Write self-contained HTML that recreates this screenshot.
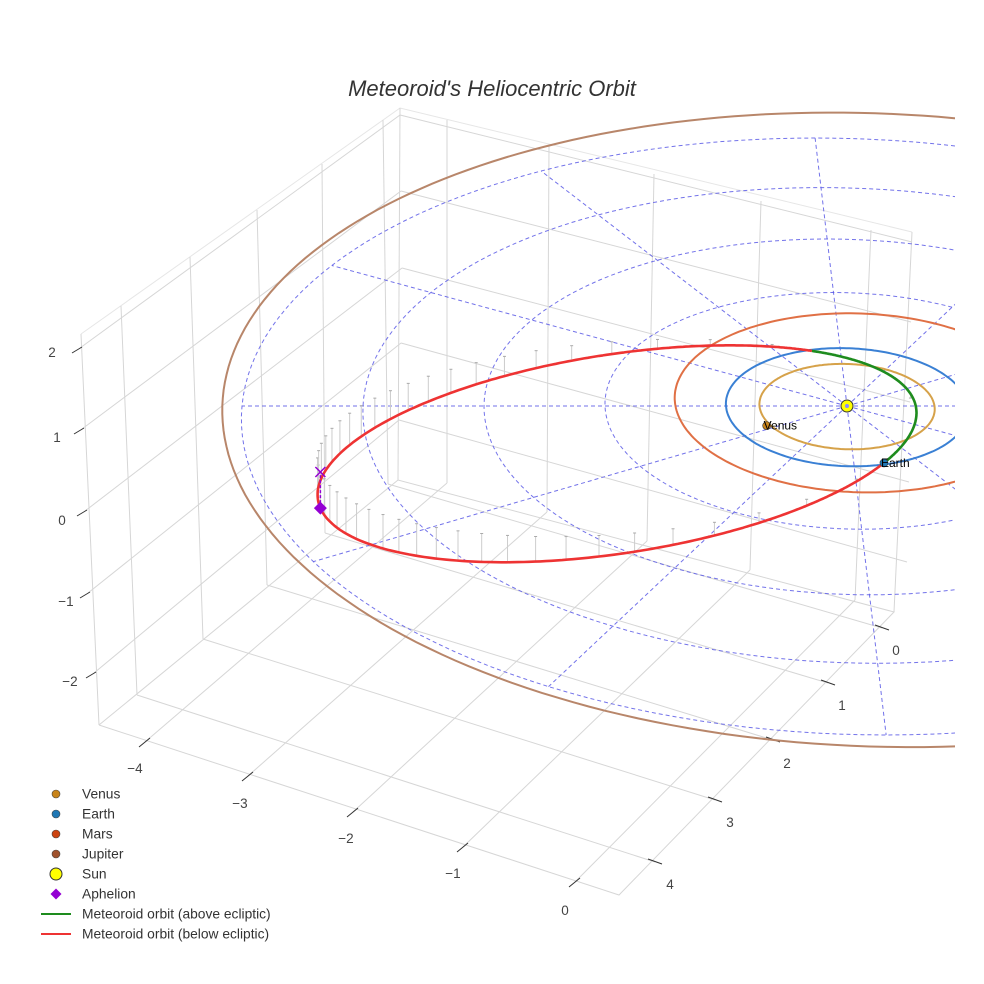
<!DOCTYPE html>
<html><head><meta charset="utf-8"><style>
html,body{margin:0;padding:0;background:#fff;}
svg{display:block;font-family:"Liberation Sans",sans-serif;}
</style></head><body>
<svg id="chart" width="984" height="984" viewBox="0 0 984 984" xmlns="http://www.w3.org/2000/svg">
<defs><clipPath id="sceneClip"><rect x="0" y="0" width="955" height="984"/></clipPath></defs>
<rect width="984" height="984" fill="#fff"/>
<text x="492" y="96" text-anchor="middle" font-size="22" font-style="italic" fill="#333">Meteoroid's Heliocentric Orbit</text>
<g id="box" stroke="#d6d6d6" stroke-width="1" fill="none">
  <polyline points="81,334 400,108 912,232" stroke="#e6e6e6"/>
  <line x1="80" y1="348" x2="400" y2="115"/><line x1="82" y1="429" x2="401" y2="191"/>
  <line x1="85" y1="511" x2="402" y2="268"/><line x1="88" y1="593" x2="401" y2="343"/>
  <line x1="94" y1="673" x2="399" y2="420"/>
  <line x1="81" y1="334" x2="99" y2="725"/><line x1="121" y1="306" x2="137" y2="695"/>
  <line x1="190" y1="257" x2="203" y2="639"/><line x1="257" y1="210" x2="267" y2="585"/>
  <line x1="322" y1="164" x2="325" y2="533"/><line x1="383" y1="120" x2="388" y2="484"/>
  <line x1="400" y1="108" x2="398" y2="480"/>
  <line x1="400" y1="115" x2="912" y2="242"/><line x1="401" y1="191" x2="911" y2="322"/>
  <line x1="402" y1="268" x2="910" y2="402"/><line x1="401" y1="343" x2="909" y2="482"/>
  <line x1="399" y1="420" x2="907" y2="562"/>
  <line x1="447" y1="120" x2="447" y2="483"/><line x1="549" y1="146" x2="547" y2="512"/>
  <line x1="654" y1="174" x2="647" y2="541"/><line x1="761" y1="201" x2="750" y2="570"/>
  <line x1="871" y1="230" x2="855" y2="600"/><line x1="912" y1="232" x2="894" y2="612"/>
  <polyline points="99,725 398,480 894,612 619,895 99,725"/>
  <line x1="145" y1="742" x2="447" y2="483"/><line x1="248" y1="776" x2="547" y2="512"/>
  <line x1="353" y1="812" x2="647" y2="541"/><line x1="463" y1="847" x2="750" y2="570"/>
  <line x1="575" y1="882" x2="855" y2="600"/>
  <line x1="137" y1="695" x2="655" y2="862"/><line x1="203" y1="639" x2="715" y2="800"/>
  <line x1="267" y1="585" x2="773" y2="740"/><line x1="325" y1="533" x2="828" y2="683"/>
  <line x1="388" y1="484" x2="882" y2="628"/>
</g>
<g id="ticks" stroke="#333" stroke-width="1">
  <line x1="72" y1="353" x2="82" y2="347"/><line x1="74" y1="434" x2="84" y2="428"/>
  <line x1="77" y1="516" x2="87" y2="510"/><line x1="80" y1="598" x2="90" y2="592"/>
  <line x1="86" y1="678" x2="96" y2="672"/>
  <line x1="139" y1="747" x2="150" y2="738"/><line x1="242" y1="781" x2="253" y2="772"/>
  <line x1="347" y1="817" x2="358" y2="808"/><line x1="457" y1="852" x2="468" y2="843"/>
  <line x1="569" y1="887" x2="580" y2="878"/>
  <line x1="648" y1="859" x2="662" y2="864"/><line x1="708" y1="797" x2="722" y2="802"/>
  <line x1="766" y1="737" x2="780" y2="742"/><line x1="821" y1="680" x2="835" y2="685"/>
  <line x1="875" y1="625" x2="889" y2="630"/>
</g>
<g id="tickLabels" font-size="13.5" fill="#444" text-anchor="middle">
  <text x="52" y="357">2</text>
  <text x="57" y="442">1</text>
  <text x="62" y="525">0</text>
  <text x="66" y="606">−1</text>
  <text x="70" y="686">−2</text>
  <text x="135" y="773">−4</text>
  <text x="240" y="808">−3</text>
  <text x="346" y="843">−2</text>
  <text x="453" y="878">−1</text>
  <text x="565" y="915">0</text>
  <text x="896" y="655">0</text>
  <text x="842" y="710">1</text>
  <text x="787" y="768">2</text>
  <text x="730" y="827">3</text>
  <text x="670" y="889">4</text>
</g>
<g id="scene" clip-path="url(#sceneClip)"></g>
<g id="legend" font-size="13.8" fill="#333"></g>
</svg>
<script>
// ---- data ----
const planetNames = ["Venus", "Earth", "Mars", "Jupiter"];
const planetA = [0.723, 1.0, 1.524, 5.35];
const planetE = [0.0, 0.0, 0.093, 0.048];
const planetPeriDeg = [0, 0, 135, 135];
const planetColors = ["#d6a24a", "#3a80d4", "#e07045", "#b8866a"];
const legendColors = ["#c8841a", "#1f77b4", "#cc4411", "#a0522d"];
const markerNames = ["Venus", "Earth"];
const markerAngleDeg = [154, 75.5];
const markerRadius = [0.755, 0.977];
const gridRadii = [1, 2, 3, 4, 5];
const gridAnglesDeg = [0, 30, 60, 90, 120, 150, 180, 210, 240, 270, 300, 330];
const meteorP = [0.98];
const meteorE = [0.78];
const meteorPeriDeg = [-14.2];
const meteorNodeDeg = [255.5];
const meteorInclDeg = [6.5];

// ---- projection (screen calibration) ----
const C = 0.02044, KY = 59.07, KX = 121, M = 7.03, KZ = 70, SX = 847, SY = 406;
function proj(X, Y, Z) { const w = 1 - C * Y; return [SX + (KX * X + M * Y) / w, SY + (KY * Y - KZ * Z) / w]; }
const NS = "http://www.w3.org/2000/svg";
const scene = document.getElementById("scene");
function mk(tag, attrs, parent) { const e = document.createElementNS(NS, tag); for (const k in attrs) e.setAttribute(k, attrs[k]); (parent || scene).appendChild(e); return e; }
const rad = d => d * Math.PI / 180;
function pts(arr) { return arr.map(p => p[0].toFixed(1) + "," + p[1].toFixed(1)).join(" "); }

gridRadii.forEach(r => {
  const a = []; for (let t = 0; t <= 360; t += 2) a.push(proj(r * Math.cos(rad(t)), r * Math.sin(rad(t)), 0));
  const el = mk("polyline", { points: pts(a), fill: "none", stroke: "#5a5ae6", "stroke-width": 1, "stroke-dasharray": "4,3", opacity: 0.85 });
  
  
});
gridAnglesDeg.forEach(t => {
  const p1 = proj(0, 0, 0), p2 = proj(5 * Math.cos(rad(t)), 5 * Math.sin(rad(t)), 0);
  const el = mk("line", { x1: p1[0], y1: p1[1], x2: p2[0], y2: p2[1], stroke: "#5a5ae6", "stroke-width": 1, "stroke-dasharray": "4,3", opacity: 0.85 });
  
  
});

planetNames.forEach((n, i) => {
  const a = planetA[i], e = planetE[i], tp = planetPeriDeg[i], arr = [];
  for (let t = 0; t <= 360; t += 1.5) {
    const r = a * (1 - e * e) / (1 + e * Math.cos(rad(t - tp)));
    arr.push(proj(r * Math.cos(rad(t)), r * Math.sin(rad(t)), 0));
  }
  const el = mk("polyline", { points: pts(arr), fill: "none", stroke: planetColors[i], "stroke-width": 2 });
  
  
});

const mp = meteorP[0], me = meteorE[0], mper = meteorPeriDeg[0], mnode = meteorNodeDeg[0], minc = rad(meteorInclDeg[0]);
function meteorPoint(nu) {
  const th = nu + mper, r = mp / (1 + me * Math.cos(rad(nu)));
  return [r * Math.cos(rad(th)), r * Math.sin(rad(th)), r * Math.sin(minc) * Math.sin(rad(th - mnode))];
}
let seg = [], segAbove = null;
function flush() {
  if (seg.length > 1) {
    const el = mk("polyline", { points: pts(seg.map(q => proj(q[0], q[1], q[2]))), fill: "none", stroke: segAbove ? "#1e8c1e" : "#ee3333", "stroke-width": 2.6, "stroke-linejoin": "round" });
    
    
  }
}
const stemG = mk("g", {});


for (let k = 0; k < 48; k++) {
  const Mn = rad(k * 7.5);
  let E = Mn; for (let j = 0; j < 30; j++) E = E - (E - me * Math.sin(E) - Mn) / (1 - me * Math.cos(E));
  const nu = 2 * Math.atan2(Math.sqrt(1 + me) * Math.sin(E / 2), Math.sqrt(1 - me) * Math.cos(E / 2)) * 180 / Math.PI;
  const q = meteorPoint(nu);
  if (Math.abs(q[2]) < 0.03) continue;
  const a1 = proj(q[0], q[1], q[2]), a2 = proj(q[0], q[1], 0);
  mk("line", { x1: a1[0], y1: a1[1], x2: a2[0], y2: a2[1], stroke: "#cccccc", "stroke-width": 1 }, stemG);
  mk("line", { x1: a2[0] - 1.5, y1: a2[1], x2: a2[0] + 1.5, y2: a2[1], stroke: "#aaa", "stroke-width": 1 }, stemG);
}
for (let nu = -180; nu <= 180; nu += 0.5) {
  const q = meteorPoint(nu), above = q[2] >= 0;
  if (segAbove === null) segAbove = above;
  if (above !== segAbove) { seg.push(q); flush(); seg = [q]; segAbove = above; } else seg.push(q);
}
flush();

const aph = meteorPoint(180), pa = proj(aph[0], aph[1], aph[2]), pe = proj(aph[0], aph[1], 0);
let el = mk("line", { x1: pa[0], y1: pa[1], x2: pe[0], y2: pe[1], stroke: "#9400d3", "stroke-width": 1.5, "stroke-dasharray": "3,2" });


el = mk("path", { d: `M${pe[0] - 5},${pe[1] - 5}L${pe[0] + 5},${pe[1] + 5}M${pe[0] - 5},${pe[1] + 5}L${pe[0] + 5},${pe[1] - 5}`, stroke: "#9400d3", "stroke-width": 1.5 });


el = mk("path", { d: `M${pa[0]},${pa[1] - 6.5}L${pa[0] + 6.5},${pa[1]}L${pa[0]},${pa[1] + 6.5}L${pa[0] - 6.5},${pa[1]}Z`, fill: "#9400d3" });



const ps = proj(0, 0, 0);
el = mk("circle", { cx: ps[0], cy: ps[1], r: 6, fill: "#ffff00", stroke: "#333", "stroke-width": 1 });


mk("circle", { cx: ps[0], cy: ps[1], r: 2, fill: "#8888ff" });

markerNames.forEach((n, i) => {
  const r = markerRadius[i], t = rad(markerAngleDeg[i]);
  const p = proj(r * Math.cos(t), r * Math.sin(t), 0);
  const m = mk("circle", { cx: p[0], cy: p[1], r: 4, fill: legendColors[i], stroke: "#333", "stroke-width": 0.6 });
  
  
  const tx = mk("text", { x: p[0] - 3, y: p[1] + 4, "font-size": 12, fill: "#000" });
  tx.textContent = n;
  
  
});

const legend = document.getElementById("legend");
const legendLabels = ["Venus", "Earth", "Mars", "Jupiter", "Sun", "Aphelion", "Meteoroid orbit (above ecliptic)", "Meteoroid orbit (below ecliptic)"];
legendLabels.forEach((lab, i) => {
  const y = 794 + i * 20;
  const g = mk("g", {}, legend);
  
  
  if (i < 4) mk("circle", { cx: 56, cy: y, r: 4, fill: legendColors[i], stroke: "#444", "stroke-width": 0.6 }, g);
  else if (i === 4) mk("circle", { cx: 56, cy: y, r: 6, fill: "#ffff00", stroke: "#333", "stroke-width": 1 }, g);
  else if (i === 5) mk("path", { d: `M56,${y - 5.5}L61.5,${y}L56,${y + 5.5}L50.5,${y}Z`, fill: "#9400d3" }, g);
  else mk("line", { x1: 41, y1: y, x2: 71, y2: y, stroke: i === 6 ? "#1e8c1e" : "#ee3333", "stroke-width": 2 }, g);
  const t = mk("text", { x: 82, y: y + 4.5 }, g);
  t.textContent = lab;
});
</script>
</body></html>
